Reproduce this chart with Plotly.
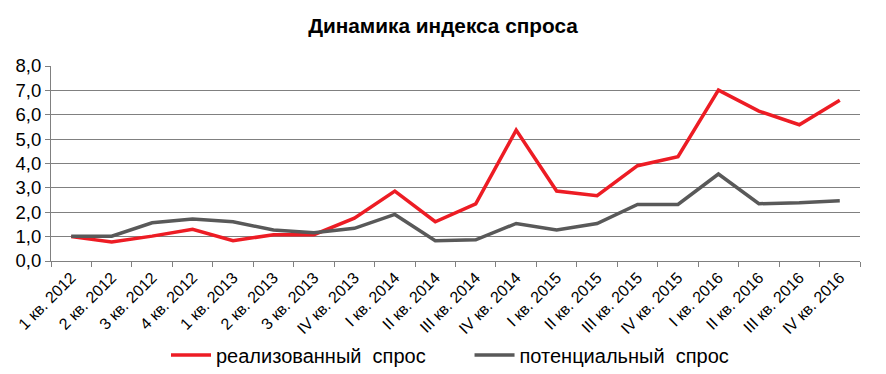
import plotly.graph_objects as go

categories = ["1 кв. 2012", "2 кв. 2012", "3 кв. 2012", "4 кв. 2012",
              "1 кв. 2013", "2 кв. 2013", "3 кв. 2013", "IV кв. 2013",
              "I кв. 2014", "II кв. 2014", "III кв. 2014", "IV кв. 2014",
              "I кв. 2015", "II кв. 2015", "III кв. 2015", "IV кв. 2015",
              "I кв. 2016", "II кв. 2016", "III кв. 2016", "IV кв. 2016"]
realized = [1.0, 0.78, 1.02, 1.3, 0.83, 1.08, 1.08, 1.76, 2.87, 1.61,
            2.34, 5.37, 2.87, 2.68, 3.91, 4.28, 7.01, 6.15, 5.59, 6.6]
potential = [1.02, 1.02, 1.57, 1.72, 1.61, 1.27, 1.16, 1.34, 1.91, 0.83,
             0.87, 1.54, 1.27, 1.54, 2.32, 2.32, 3.57, 2.35, 2.39, 2.47]
y_ticks = [0, 1, 2, 3, 4, 5, 6, 7, 8]
y_labels = ["0,0", "1,0", "2,0", "3,0", "4,0", "5,0", "6,0", "7,0", "8,0"]

FONT = "Liberation Sans, Arial, sans-serif"

# page body has an 8px default margin, so the figure is placed at (8, 8)
W, H = 878, 366
OFF = 8

fig = go.Figure()
fig.add_trace(go.Scatter(x=categories, y=realized, mode="lines",
                         name="реализованный\u00a0 спрос" + "\u00a0" * 7,
                         line=dict(color="#ED1C24", width=3.5)))
fig.add_trace(go.Scatter(x=categories, y=potential, mode="lines",
                         name="потенциальный\u00a0 спрос",
                         line=dict(color="#595959", width=3.5)))

fig.update_layout(
    width=W, height=H,
    margin=dict(l=51 - OFF, r=W - (860 - OFF), t=66 - OFF, b=H - (261 - OFF)),
    paper_bgcolor="white", plot_bgcolor="white",
    font=dict(family=FONT, color="#000000"),
    title=dict(text="<b>Динамика индекса спроса</b>", x=(443 - OFF) / W, xanchor="center",
               xref="container", yref="container",
               y=1 - (26 - OFF) / H, yanchor="middle",
               font=dict(size=20.8, family=FONT, color="#000000")),
    showlegend=True,
    legend=dict(orientation="h", xref="container", yref="container",
                x=(450 - OFF) / W, xanchor="center", y=1 - (355 - OFF) / H, yanchor="middle",
                font=dict(size=20, family=FONT), itemwidth=40,
                bgcolor="rgba(0,0,0,0)"),
    xaxis=dict(type="category", tickangle=-45, tickson="boundaries",
               ticks="outside", ticklen=5, tickcolor="#808080",
               showline=True, linecolor="#808080", linewidth=1,
               showgrid=False, tickfont=dict(size=16, family=FONT),
               range=[-0.5, 19.5], automargin=False),
    yaxis=dict(range=[0, 8], tickvals=y_ticks, ticktext=y_labels,
               ticks="outside", ticklen=5, tickcolor="#808080",
               showline=True, linecolor="#808080", linewidth=1,
               showgrid=True, gridcolor="#808080", gridwidth=1,
               zeroline=False, tickfont=dict(size=18.5, family=FONT),
               automargin=False),
)

fig.write_html("out.html")
